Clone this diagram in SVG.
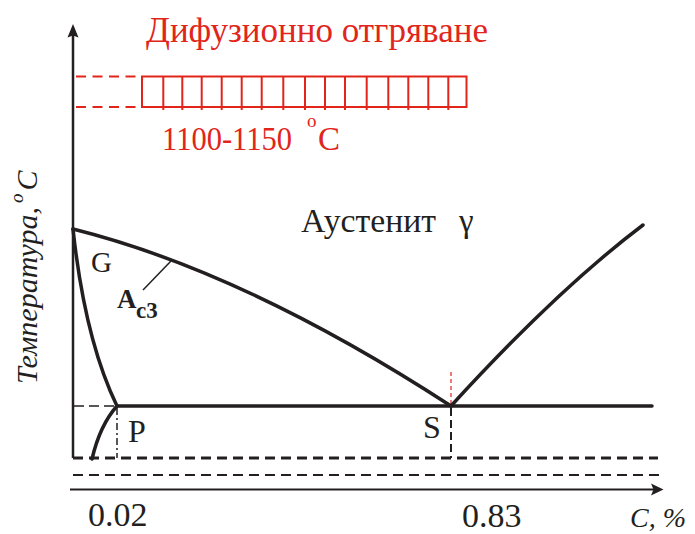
<svg xmlns="http://www.w3.org/2000/svg" width="695" height="534" viewBox="0 0 695 534">
<style>
text{font-family:'Liberation Serif','Times New Roman',serif}
.t{fill:#231f20}
.r{fill:#e1251b}
.ln{fill:none;stroke:#231f20;stroke-width:3.5;stroke-linecap:round}
.rd{fill:none;stroke:#e1251b;stroke-width:2}
.dk{fill:none;stroke:#231f20}
</style>
<rect width="695" height="534" fill="#fff"/>
<g id="axes">
<line class="dk" x1="73" y1="34" x2="73" y2="458" stroke-width="2.5"/>
<path d="M73,24 L78.5,37.5 L73,35.5 L67.5,37.5 Z" fill="#231f20"/>
<line class="dk" x1="70" y1="489.5" x2="654" y2="489.5" stroke-width="2"/>
<path d="M663.5,489.5 L651,483.5 L653.5,489.5 L651,495.5 Z" fill="#231f20"/>
</g>
<g id="connectors">
<line class="dk" x1="73" y1="458" x2="658" y2="458" stroke-width="3" stroke-dasharray="10,6"/>
<line class="dk" x1="73" y1="475" x2="662" y2="475" stroke-width="2" stroke-dasharray="10,6"/>
<line class="dk" x1="74" y1="406" x2="115" y2="406" stroke-width="1.5" stroke-dasharray="10,5"/>
<line class="dk" x1="117" y1="408" x2="117" y2="458" stroke-width="1.5" stroke-dasharray="7,3,2,3"/>
<line class="dk" x1="451" y1="408" x2="451" y2="458" stroke-width="2" stroke-dasharray="8,4"/>
<line x1="451" y1="372" x2="451" y2="405" stroke="#e1251b" stroke-width="1.2" stroke-dasharray="4,3"/>
<line class="rd" x1="76" y1="76.5" x2="141" y2="76.5" stroke-dasharray="10,6.5"/>
<line class="rd" x1="76" y1="107" x2="141" y2="107" stroke-dasharray="10,6.5"/>
</g>
<g id="phase-lines">
<path class="ln" d="M117,406 L652,406"/>
<path class="ln" d="M73,229 Q245,272 451,406"/>
<path class="ln" d="M73,229 Q85,340 117,406"/>
<path class="ln" d="M117,406 Q100,425 92,459"/>
<path class="ln" d="M451,406 Q557,290 643,225"/>
<line x1="171" y1="261" x2="143" y2="290" stroke="#231f20" stroke-width="1.5"/>
</g>
<g id="annealing-band">
<rect class="rd" x="142" y="76.5" width="324.5" height="30.5"/>
<path class="rd" d="M163.3,76.5V110M182.3,76.5V110M201.7,76.5V110M221.7,76.5V110M241.7,76.5V110M261.7,76.5V110M283.3,76.5V110M305,76.5V110M325,76.5V110M345,76.5V110M366.7,76.5V110M388.3,76.5V110M408.3,76.5V110M428.3,76.5V110M448.3,76.5V110"/>
</g>
<g id="labels">
<text class="r" x="146" y="42" font-size="35" textLength="342" lengthAdjust="spacingAndGlyphs">Дифузионно отгряване</text>
<text class="r" x="162" y="150" font-size="33" textLength="130" lengthAdjust="spacingAndGlyphs">1100-1150</text>
<text class="r" x="307" y="127" font-size="19">o</text>
<text class="r" x="318" y="150" font-size="33">C</text>
<text class="t" x="301" y="232" font-size="33" textLength="135" lengthAdjust="spacingAndGlyphs">Аустенит</text>
<text class="t" x="459" y="232" font-size="33">γ</text>
<text class="t" x="91" y="272" font-size="29">G</text>
<text class="t" x="117" y="308" font-size="27" font-weight="bold">A</text>
<text class="t" x="136" y="318" font-size="23" font-weight="bold">c3</text>
<text class="t" x="128" y="442" font-size="32">P</text>
<text class="t" x="423" y="438" font-size="32">S</text>
<text class="t" x="88" y="526" font-size="34">0.02</text>
<text class="t" x="462" y="527" font-size="34">0.83</text>
<text class="t" x="630" y="527" font-size="28" font-style="italic">C, %</text>
<text class="t" transform="translate(37,384) rotate(-90)" font-size="30" font-style="italic">Температура,<tspan font-size="19" dy="-14" dx="4">o</tspan><tspan dy="14" dx="3">C</tspan></text>
</g>
</svg>
